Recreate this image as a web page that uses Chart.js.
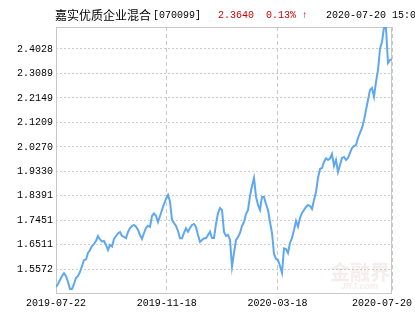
<!DOCTYPE html>
<html>
<head>
<meta charset="utf-8">
<script src="https://cdn.jsdelivr.net/npm/chart.js@4/dist/chart.umd.min.js"></script>
<style>
  body { margin: 0; background: #ffffff; }
  #wrap { width: 415px; height: 330px; position: relative; }
</style>
</head>
<body>
<div id="wrap"><canvas id="navChart"></canvas></div>
<script>
var fundName = '嘉实优质企业混合';
var fundCode = '[070099]';
var latestNav = '2.3640';
var latestChange = '0.13% ↑';
var latestTime = '2020-07-20 15:00';

// x tick positions (trading day index) and their date labels
var dateTickIdx = [0, 55.4, 110.7, 168];
var dateTickLabels = ['2019-07-22', '2019-11-18', '2020-03-18', '2020-07-20'];

var yTicks = [1.5572, 1.6511, 1.7451, 1.8391, 1.9330, 2.0270, 2.1209, 2.2149, 2.3089, 2.4028];

// unit net value
var navValues = [
    1.4894, 1.5009, 1.5162, 1.5316, 1.5419, 1.5316, 1.5085, 1.4817, 1.4817, 1.5009,
    1.5239, 1.5316, 1.5469, 1.5700, 1.5930, 1.5949, 1.6199, 1.6314, 1.6467, 1.6544,
    1.6659, 1.6851, 1.6717, 1.6640, 1.6659, 1.6506, 1.6314, 1.6506, 1.6448, 1.6736,
    1.6851, 1.6947, 1.7004, 1.6851, 1.6813, 1.6763, 1.7004, 1.7158, 1.7235, 1.7273,
    1.7208, 1.7081, 1.6889, 1.6736, 1.6966, 1.7158, 1.7246, 1.7208, 1.7619, 1.7715,
    1.7619, 1.7388, 1.7619, 1.7849, 1.8079, 1.8271, 1.8425, 1.8167, 1.7465, 1.7350,
    1.7235, 1.7043, 1.6763, 1.6763, 1.6966, 1.7146, 1.7016, 1.7158, 1.7273, 1.7312,
    1.7196, 1.6889, 1.6621, 1.6697, 1.6763, 1.6763, 1.6889, 1.7016, 1.6774, 1.6774,
    1.7312, 1.7734, 1.7926, 1.7849, 1.7004, 1.6851, 1.6889, 1.6697, 1.5673, 1.6199,
    1.6697, 1.6813, 1.6966, 1.7235, 1.7388, 1.7695, 1.7849, 1.8386, 1.8770, 1.9077,
    1.8359, 1.8041, 1.7849, 1.8348, 1.8348, 1.8079, 1.7849, 1.7388, 1.6966, 1.6160,
    1.5968, 1.5930, 1.5700, 1.5431, 1.6379, 1.6352, 1.6199, 1.6582, 1.6774, 1.7081,
    1.7427, 1.7208, 1.7542, 1.7734, 1.7849, 1.7964, 1.8041, 1.8002, 1.7887, 1.8233,
    1.8540, 1.9077, 1.9422, 1.9461, 1.9691, 1.9833, 1.9768, 1.9825, 1.9998, 1.9538,
    1.9768, 1.9307, 1.9576, 1.9845, 1.9883, 1.9768, 1.9845, 2.0037, 2.0228, 2.0305,
    2.0344, 2.0612, 2.0804, 2.0996, 2.1303, 2.1687, 2.2071, 2.2454, 2.2531, 2.2197,
    2.2761, 2.3222, 2.4028, 2.4297, 2.4853, 2.4834, 2.3491, 2.3606, 2.3640
];

var points = navValues.map(function (v, i) { return { x: i, y: v }; });

var monoFont = "'Liberation Mono', 'DejaVu Sans Mono', monospace";
var cjkFont = "'Noto Sans CJK SC', sans-serif";

// title row, frame, date labels and watermark
var decorPlugin = {
    id: 'decor',
    beforeDatasetsDraw: function (chart) {
        var c = chart.ctx, a = chart.chartArea;
        c.save();
        c.strokeStyle = '#c8c8c8';
        c.lineWidth = 1;
        c.strokeRect(Math.round(a.left) + 0.5, Math.round(a.top) + 0.5,
            Math.round(a.right - a.left) - 1, Math.round(a.bottom - a.top));

        // watermark
        c.fillStyle = 'rgba(215, 170, 170, 0.22)';
        c.font = "bold 20px " + cjkFont;
        c.textAlign = 'right';
        c.textBaseline = 'alphabetic';
        c.fillText('金融界', a.right - 2, a.bottom - 13);
        c.font = "italic bold 9px 'Liberation Sans', sans-serif";
        c.fillText('JRJ.com', a.right - 14, a.bottom - 4);
        c.restore();
    },
    afterDraw: function (chart) {
        var c = chart.ctx;
        c.save();
        c.textBaseline = 'middle';
        c.textAlign = 'left';
        c.font = '12px ' + cjkFont;
        c.fillStyle = '#000000';
        c.fillText(fundName, 55, 15);
        c.font = '10px ' + monoFont;
        c.fillText(fundCode, 153, 15);
        c.fillStyle = '#cc0000';
        c.fillText(latestNav, 218, 15);
        c.fillText(latestChange, 266, 15);
        c.fillStyle = '#000000';
        c.fillText(latestTime, 326, 15);

        // date labels under the x axis
        var xs = chart.scales.x;
        c.font = '10px ' + monoFont;
        c.textAlign = 'center';
        dateTickIdx.forEach(function (idx, i) {
            var label = dateTickLabels[i];
            var w = c.measureText(label).width;
            var px = xs.getPixelForValue(idx);
            px = Math.min(px, chart.width - 3 - w / 2);
            c.fillText(label, px, chart.chartArea.bottom + 10);
        });
        c.restore();
    }
};

var ctx = document.getElementById('navChart').getContext('2d');

var navChart = new Chart(ctx, {
    type: 'line',
    data: {
        datasets: [
            {
                label: fundName,
                data: points,
                borderColor: '#5ea8f2',
                backgroundColor: '#5ea8f2',
                borderWidth: 2,
                fill: false,
                tension: 0,
                pointRadius: 0
            }
        ]
    },
    options: {
        responsive: true,
        maintainAspectRatio: false,
        animation: false,
        layout: {
            padding: {
                left: 14,
                right: 23,
                top: 27,
                bottom: 37
            }
        },
        plugins: {
            legend: { display: false },
            tooltip: { enabled: false }
        },
        scales: {
            x: {
                type: 'linear',
                min: 0,
                max: navValues.length - 1,
                afterBuildTicks: function (axis) {
                    axis.ticks = dateTickIdx.map(function (v) { return { value: v }; });
                },
                ticks: { display: false },
                grid: {
                    drawTicks: false,
                    color: '#c8c8c8'
                },
                border: {
                    display: false,
                    dash: [4, 3]
                }
            },
            y: {
                min: 1.4662,
                max: 2.4872,
                afterBuildTicks: function (axis) {
                    axis.ticks = yTicks.map(function (v) { return { value: v }; });
                },
                ticks: {
                    padding: 3,
                    color: '#000000',
                    font: { family: monoFont, size: 10 },
                    callback: function (value) { return value.toFixed(4); }
                },
                grid: {
                    drawTicks: false,
                    color: '#cccccc'
                },
                border: {
                    display: false,
                    dash: [2, 2]
                }
            }
        }
    },
    plugins: [decorPlugin]
});
</script>
</body>
</html>
